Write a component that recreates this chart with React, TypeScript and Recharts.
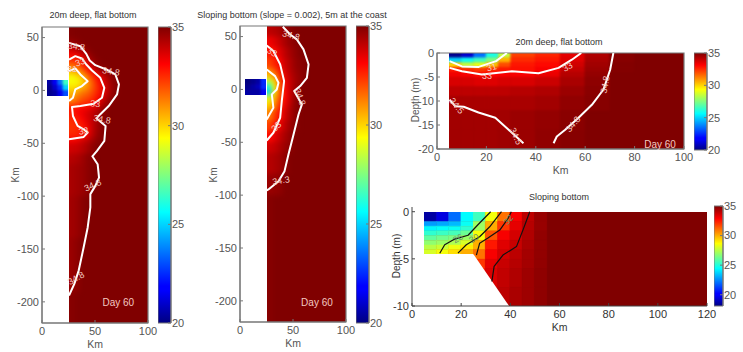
import React from 'react'
import {
  ComposedChart,
  Area,
  Scatter,
  XAxis,
  YAxis,
  ReferenceArea,
  ReferenceDot,
} from 'recharts'

type Pt = { x: number; y: number }
type Tag = { x: number; y: number; text: string; angle?: number }
type Box = { left: number; top: number; width: number; height: number }

const FONT = '"Liberation Sans", Arial, sans-serif'
const AXIS = '#777'
const INK = '#555'

// jet colormap stops
const jetStops: [number, string][] = [
  [0, '#000080'],
  [0.11, '#0000ff'],
  [0.125, '#0000ff'],
  [0.375, '#00ffff'],
  [0.625, '#ffff00'],
  [0.875, '#ff0000'],
  [1, '#800000'],
]

const hexToRgb = (h: string) => [1, 3, 5].map(i => parseInt(h.slice(i, i + 2), 16))

const jet = (value: number, lo = 20, hi = 35) => {
  const t = Math.min(1, Math.max(0, (value - lo) / (hi - lo)))
  for (let i = 1; i < jetStops.length; i++) {
    if (t <= jetStops[i][0]) {
      const [t0, c0] = jetStops[i - 1]
      const [t1, c1] = jetStops[i]
      const k = t1 === t0 ? 0 : (t - t0) / (t1 - t0)
      const a = hexToRgb(c0)
      const b = hexToRgb(c1)
      return `rgb(${a.map((v, n) => Math.round(v + (b[n] - v) * k)).join(',')})`
    }
  }
  return jetStops[jetStops.length - 1][1]
}

/* ---- 20m deep, flat bottom (plan view) ---- */
const flatX = [25, 30, 35, 40, 45, 50, 55, 60, 65, 70, 75]
const flatY = [60, 50, 45, 40, 35, 30, 25, 20, 15, 10, 5, 0, -5, -10, -15, -20, -25, -30, -35, -40, -45, -50, -60, -70, -100, -140, -190, -220]
const flatField = [
  [34.95],
  [34.8, 34.9],
  [34.3, 34.6, 34.85],
  [33.7, 34.0, 34.4, 34.8],
  [33.0, 33.1, 33.6, 34.4, 34.85],
  [32.3, 32.4, 32.8, 33.8, 34.6, 34.9],
  [31.3, 31.6, 32.3, 33.2, 34.1, 34.8, 34.9],
  [30.3, 30.6, 31.3, 32.3, 33.2, 34.0, 34.6, 34.85],
  [29.3, 29.6, 30.2, 31.3, 32.3, 33.1, 33.8, 34.5, 34.85],
  [29.3, 29.3, 29.8, 30.8, 31.8, 32.8, 33.5, 34.3, 34.8],
  [29.8, 29.8, 30.5, 31.0, 31.8, 32.6, 33.4, 34.2, 34.75],
  [30.3, 30.8, 31.3, 31.6, 32.1, 32.7, 33.4, 34.2, 34.8],
  [30.8, 31.3, 31.8, 32.1, 32.4, 33.0, 33.8, 34.5, 34.85],
  [31.8, 32.0, 32.4, 32.6, 33.0, 33.5, 34.2, 34.8],
  [32.8, 33.0, 33.2, 33.4, 33.7, 34.1, 34.7],
  [32.7, 33.0, 33.3, 33.7, 34.0, 34.5, 34.85],
  [32.5, 32.7, 33.1, 33.6, 34.0, 34.5, 34.9],
  [32.4, 32.5, 32.8, 33.4, 34.0, 34.6],
  [32.4, 32.5, 32.7, 33.1, 34.0, 34.6],
  [32.6, 32.6, 32.8, 33.4, 34.1, 34.7],
  [33.2, 33.3, 33.7, 34.0, 34.5, 34.85],
  [33.8, 33.9, 34.1, 34.4, 34.8],
  [34.2, 34.3, 34.5, 34.8, 34.9],
  [34.4, 34.5, 34.6, 34.8],
  [34.5, 34.6, 34.85],
  [34.6, 34.8],
  [34.9],
]
const riverX = [5, 10, 15, 20, 25]
const riverY = [10, 5, 0, -5]
const flatRiver = [
  [20.5, 21.5, 23.5, 26.5],
  [20.2, 21.0, 22.5, 25.0],
  [20.2, 20.5, 21.5, 23.0],
]
const flat348: Pt[] = [
  { x: 25.5, y: 45 }, { x: 36.2, y: 41.8 }, { x: 41.8, y: 34.6 }, { x: 45, y: 28.3 }, { x: 50.3, y: 23.9 },
  { x: 60.7, y: 19.8 }, { x: 69.2, y: 15.1 }, { x: 72.6, y: 5.7 }, { x: 70.8, y: -3.8 }, { x: 62.9, y: -14.8 },
  { x: 55, y: -22.6 }, { x: 51.3, y: -26.4 }, { x: 60, y: -33.6 }, { x: 58.8, y: -47.8 }, { x: 51.9, y: -57.2 },
  { x: 47.5, y: -62.3 }, { x: 52.5, y: -69.8 }, { x: 53.8, y: -82.4 }, { x: 50.3, y: -90.3 }, { x: 45.6, y: -98.1 },
  { x: 45.6, y: -110.7 }, { x: 43.1, y: -129.6 }, { x: 39.3, y: -148.4 }, { x: 34.6, y: -170.4 }, { x: 30.5, y: -183 },
  { x: 25.5, y: -194 },
]
const flat33: Pt[] = [
  { x: 25.5, y: 29.2 }, { x: 31.4, y: 32.4 }, { x: 37.7, y: 30.2 }, { x: 41.8, y: 24.5 }, { x: 47.2, y: 18.9 },
  { x: 55, y: 11.9 }, { x: 58.8, y: 2.5 }, { x: 56.6, y: -6.9 }, { x: 48.7, y: -12.6 }, { x: 36.2, y: -14.8 },
  { x: 28.3, y: -15.7 }, { x: 29.2, y: -24.2 }, { x: 33.6, y: -33.6 }, { x: 39.3, y: -36.8 }, { x: 43.1, y: -39.9 },
  { x: 39.3, y: -44 }, { x: 25.5, y: -46.2 },
]
const flat31: Pt[] = [
  { x: 25.5, y: 18.2 }, { x: 31.4, y: 20.8 }, { x: 36.2, y: 15.1 }, { x: 43.1, y: 8.8 }, { x: 37.7, y: 4.1 },
  { x: 31.4, y: 0.9 }, { x: 29.2, y: -6.9 }, { x: 25.5, y: -10.1 },
]
const flatTags: Tag[] = [
  { x: 32.4, y: 40.9, text: '34.8', angle: 5 },
  { x: 36.2, y: 26.1, text: '33', angle: -20 },
  { x: 28.3, y: 19.8, text: '31' },
  { x: 65, y: 17.3, text: '34.8', angle: 10 },
  { x: 50.3, y: -13.2, text: '33', angle: 5 },
  { x: 56.6, y: -28, text: '34.8', angle: 10 },
  { x: 39.3, y: -39, text: '33', angle: -10 },
  { x: 48.1, y: -90.3, text: '34.8', angle: -25 },
  { x: 32.4, y: -178.3, text: '34.8', angle: -30 },
  { x: 72, y: -201.3, text: 'Day 60' },
]

/* ---- Sloping bottom (plan view) ---- */
const slopeX = [25, 30, 35, 40, 45, 50, 55, 60, 65]
const slopeY = [60, 50, 40, 30, 20, 15, 10, 5, 0, -5, -10, -15, -20, -30, -40, -50, -60, -80, -100, -220]
const slopeField = [
  [34.1, 34.2, 34.4, 34.7, 34.85],
  [33.3, 33.6, 34.0, 34.4, 34.7, 34.9],
  [32.8, 33.0, 33.6, 34.1, 34.5, 34.8],
  [32.2, 32.6, 33.2, 33.9, 34.3, 34.7, 34.85],
  [31.0, 31.8, 32.8, 33.7, 34.2, 34.6, 34.8],
  [30.2, 31.0, 32.4, 33.5, 34.1, 34.5, 34.8],
  [28.5, 30.0, 32.0, 33.3, 34.0, 34.5, 34.75],
  [26.0, 29.5, 31.8, 33.2, 34.0, 34.6],
  [25.0, 29.5, 31.8, 33.1, 34.0, 34.7],
  [28.5, 30.3, 32.0, 33.1, 34.0, 34.8],
  [29.8, 30.8, 32.4, 33.3, 34.1, 34.85],
  [30.3, 31.3, 32.7, 33.5, 34.3, 34.85],
  [31.3, 32.2, 33.0, 33.8, 34.4, 34.85],
  [32.2, 32.8, 33.5, 34.1, 34.6, 34.9],
  [33.0, 33.5, 34.0, 34.4, 34.75],
  [33.8, 34.0, 34.3, 34.6, 34.85],
  [34.2, 34.3, 34.5, 34.8],
  [34.6, 34.7, 34.8],
  [34.9],
]
const slopeRiver = [
  [20.0, 20.2, 20.5, 22.5],
  [20.2, 20.5, 20.8, 22.5],
  [20.5, 20.5, 20.5, 21.5],
]
const slope348: Pt[] = [
  { x: 40.4, y: 59.3 }, { x: 47.3, y: 52 }, { x: 53.6, y: 47.3 }, { x: 59.9, y: 37.9 }, { x: 64.7, y: 23.7 },
  { x: 63.1, y: 11 }, { x: 56.8, y: 3.2 }, { x: 51.1, y: -1.6 }, { x: 58.4, y: -14.2 }, { x: 55.2, y: -23.7 },
  { x: 50.5, y: -42.6 }, { x: 45.7, y: -61.5 }, { x: 42, y: -77.3 }, { x: 36.3, y: -86.8 }, { x: 26.8, y: -94.6 },
  { x: 25.2, y: -95.6 },
]
const slope33: Pt[] = [
  { x: 25.2, y: 41.6 }, { x: 31.5, y: 36.3 }, { x: 37.9, y: 23.7 }, { x: 41.6, y: 7.9 }, { x: 39.4, y: -11 },
  { x: 37.9, y: -26.8 }, { x: 31.5, y: -41 }, { x: 25.2, y: -48.3 },
]
const slope31: Pt[] = [
  { x: 25.2, y: 18.9 }, { x: 33.1, y: 12.6 }, { x: 36.3, y: 6.3 }, { x: 34.7, y: 0 }, { x: 30, y: -4.7 },
  { x: 31.5, y: -17.4 }, { x: 25.2, y: -28.4 },
]
const slopeTags: Tag[] = [
  { x: 48, y: 50.5, text: '34.8', angle: 15 },
  { x: 30, y: 34.7, text: '33', angle: 30 },
  { x: 56.2, y: -7.3, text: '34.8', angle: 70 },
  { x: 34.7, y: -35.6, text: '33', angle: -45 },
  { x: 38.8, y: -86.8, text: '34.3', angle: -10 },
  { x: 72.6, y: -201.9, text: 'Day 60' },
]

/* ---- 20m deep, flat bottom (section) ---- */
const sectionX = [5, 10, 15, 20, 25, 30, 40, 50, 60, 70, 80]
const sectionY = [0, -1, -2, -3, -4, -5, -7, -9, -12, -16, -20]
const sectionField = [
  [20.2, 21.0, 23.5, 26.0, 28.5, 32.2, 32.6, 33.5, 34.3, 34.9],
  [25.0, 25.8, 26.5, 27.5, 30.5, 32.5, 32.8, 33.6, 34.4, 34.9],
  [30.0, 28.5, 29.0, 30.3, 32.0, 32.8, 33.0, 33.8, 34.5, 34.95],
  [32.8, 32.5, 32.3, 32.5, 32.8, 32.9, 33.2, 34.0, 34.6, 34.95],
  [33.3, 33.2, 33.0, 33.1, 33.2, 33.2, 33.4, 34.2, 34.7],
  [33.7, 33.7, 33.6, 33.6, 33.7, 33.7, 33.9, 34.4, 34.8],
  [34.1, 34.1, 34.1, 34.1, 34.1, 34.2, 34.3, 34.6, 34.85],
  [34.4, 34.4, 34.4, 34.4, 34.4, 34.4, 34.5, 34.75, 34.9],
  [34.5, 34.5, 34.5, 34.5, 34.5, 34.6, 34.7, 34.85],
  [34.5, 34.5, 34.5, 34.5, 34.55, 34.6, 34.75, 34.9],
]
const section348: Pt[] = [
  { x: 71.4, y: 0 }, { x: 70.1, y: -3.5 }, { x: 67.4, y: -7.6 }, { x: 62.7, y: -10.8 }, { x: 57.3, y: -13.5 },
  { x: 51.9, y: -16 }, { x: 48.5, y: -17.4 }, { x: 47.2, y: -18.8 },
]
const section345: Pt[] = [
  { x: 5.1, y: -9.7 }, { x: 7.4, y: -11.1 }, { x: 10.8, y: -11.2 }, { x: 16.8, y: -12.4 }, { x: 23.6, y: -13.5 },
  { x: 29, y: -16 }, { x: 35, y: -18.8 },
]
const section33: Pt[] = [
  { x: 5.1, y: -3.1 }, { x: 10.1, y: -3.8 }, { x: 18.2, y: -4.5 }, { x: 30.3, y: -3.8 }, { x: 41.1, y: -4.2 },
  { x: 49.2, y: -3.1 }, { x: 54.6, y: -1.4 }, { x: 58.4, y: 0 },
]
const section31: Pt[] = [
  { x: 5.1, y: -1.7 }, { x: 10.1, y: -2.8 }, { x: 16.9, y: -2.9 }, { x: 23.9, y: -1.7 }, { x: 28.3, y: 0 },
]
const sectionTags: Tag[] = [
  { x: 7.8, y: -11.1, text: '34.5', angle: 50 },
  { x: 31.7, y: -17.4, text: '34.5', angle: 65 },
  { x: 68.3, y: -6.6, text: '34.8', angle: -80 },
  { x: 55.3, y: -14.9, text: '34.8', angle: -50 },
  { x: 20.2, y: -5, text: '33' },
  { x: 53, y: -3, text: '33', angle: -30 },
  { x: 22.2, y: -3.1, text: '31', angle: -15 },
  { x: 90.3, y: -19.2, text: 'Day 60' },
]

/* ---- Sloping bottom (section) ---- */
const shelfX = [5, 10, 15, 20, 25]
const shelfY = [0, -1, -1.5, -2, -2.5, -3, -3.5, -4, -4.5]
const shelfField = [
  [18.6, 19.5, 22.0, 24.4],
  [22.8, 23.0, 23.3, 24.6],
  [24.3, 24.5, 24.6, 25.2],
  [25.2, 25.4, 25.6, 26.2],
  [26.0, 26.3, 26.5, 27.0],
  [26.8, 27.0, 27.3, 28.0],
  [27.5, 27.8, 28.4, 29.0],
  [28.0, 28.5, 29.2, 30.0],
]
const rampX = [25, 30, 35, 40, 45, 50, 55]
const rampY = [0, -1, -2, -3, -4, -5, -6, -8, -10]
const rampField = [
  [25.5, 28.5, 31.0, 33.0, 34.0, 34.6],
  [27.0, 30.0, 32.0, 33.3, 34.1, 34.6],
  [28.5, 31.5, 33.0, 33.6, 34.2, 34.7],
  [30.0, 32.5, 33.4, 33.8, 34.3, 34.7],
  [31.0, 33.0, 33.6, 34.0, 34.4, 34.7],
  [32.0, 33.3, 33.8, 34.1, 34.4, 34.7],
  [32.5, 33.5, 33.9, 34.2, 34.5, 34.75],
  [33.0, 33.6, 34.0, 34.3, 34.5, 34.75],
]
const seabed: Pt[] = [
  { x: 23, y: -4.5 },
  { x: 25, y: -4.5 },
  { x: 39.5, y: -10 },
]
const shelfLines: Pt[][] = [
  [{ x: 11.3, y: -4.4 }, { x: 13.3, y: -3.5 }, { x: 17.4, y: -2.9 }, { x: 22.8, y: -2.5 }, { x: 27.5, y: -1.2 }, { x: 32, y: 0 }],
  [{ x: 18.7, y: -4.4 }, { x: 22.1, y: -3.5 }, { x: 27.5, y: -2.65 }, { x: 31.6, y: -1.6 }, { x: 36.4, y: 0 }],
  [{ x: 26.2, y: -4.6 }, { x: 27.5, y: -3.35 }, { x: 30.9, y: -2.8 }, { x: 35.7, y: -1.95 }, { x: 39.1, y: -0.7 }, { x: 40.4, y: 0 }],
  [{ x: 32.5, y: -7.4 }, { x: 33.4, y: -5.8 }, { x: 37, y: -4.6 }, { x: 42.5, y: -3.7 }, { x: 45.2, y: -1.9 }, { x: 47.9, y: 0 }],
]
const shelfTags: Tag[] = [
  { x: 18.8, y: -2.9, text: '26', angle: -30 },
  { x: 25.4, y: -2.9, text: '30', angle: -30 },
  { x: 39.4, y: -0.9, text: '32', angle: -50 },
]

const planXTicks = [0, 50, 100]
const planYTicks = [50, 0, -50, -100, -150, -200]
const sectionXTicks = [0, 20, 40, 60, 80, 100]
const sectionYTicks = [0, -5, -10, -15, -20]
const shelfXTicks = [0, 20, 40, 60, 80, 100, 120]
const shelfYTicks = [0, -5, -10]
const barTicks = [20, 25, 30, 35]

// Smooth field: a blurred sub-chart clipped to its box, with its own scales
const PAD = 8
const HeatLayer = ({ box, xs, ys, field, blur, lo, hi }: {
  box: Box; xs: number[]; ys: number[]; field: number[][]; blur: number; lo?: number; hi?: number
}) => {
  const x0 = xs[0]
  const x1 = Math.max(xs[xs.length - 1], x0)
  const y0 = ys[0]
  const y1 = ys[ys.length - 1]
  const padX = (PAD * (x1 - x0)) / box.width
  const padY = (PAD * (y0 - y1)) / box.height
  const grow = (v: number, edge: number, by: number) => (v === edge ? edge + by : v)
  return (
    <div style={{ position: 'absolute', ...box, overflow: 'hidden', background: jet(35) }}>
      <div style={{ position: 'absolute', left: -PAD, top: -PAD, filter: `blur(${blur}px)` }}>
        <ComposedChart
          width={box.width + PAD * 2}
          height={box.height + PAD * 2}
          margin={{ top: 0, right: 0, bottom: 0, left: 0 }}
        >
          <XAxis hide type="number" dataKey="x" domain={[x0 - padX, x1 + padX]} allowDataOverflow />
          <YAxis hide type="number" dataKey="y" domain={[y1 - padY, y0 + padY]} allowDataOverflow />
          {field.flatMap((row, i) =>
            row.map((v, j) => (
              <ReferenceArea
                key={`${i}-${j}`}
                x1={grow(xs[j], x0, -padX)}
                x2={grow(xs[j + 1], x1, padX)}
                y1={grow(ys[i], y0, padY)}
                y2={grow(ys[i + 1], y1, -padY)}
                fill={jet(v, lo, hi)}
                fillOpacity={1}
                stroke={jet(v, lo, hi)}
                strokeWidth={0.5}
              />
            )),
          )}
        </ComposedChart>
      </div>
    </div>
  )
}

const tagShape = (tag: Tag, fill: string) => (props: any) => (
  <text
    x={props.cx}
    y={props.cy}
    fill={fill}
    fontSize={tag.text.startsWith('Day') ? 10 : 9}
    fontFamily={FONT}
    textAnchor="middle"
    dominantBaseline="middle"
    transform={tag.angle ? `rotate(${tag.angle} ${props.cx} ${props.cy})` : undefined}
  >
    {tag.text}
  </text>
)

const ML = 44
const MR = 14
const MT = 8
const MB = 34

const Frame = ({ box, xDomain, yDomain, xTicks, yTicks, lines, tags, lineColor = '#fff', lineWidth = 2, tagColor = '#f3c9c0', boxed = true, seabedLine, axisColor = AXIS, ink = INK }: any) => (
  <div style={{ position: 'absolute', left: box.left - ML, top: box.top - MT }}>
    <ComposedChart
      width={box.width + ML + MR}
      height={box.height + MT + MB}
      margin={{ top: MT, right: MR, bottom: 0, left: 0 }}
    >
      <XAxis
        type="number"
        dataKey="x"
        domain={xDomain}
        ticks={xTicks}
        allowDataOverflow
        height={MB}
        interval={0}
        stroke={axisColor}
        tick={{ fill: ink, fontSize: 11, fontFamily: FONT }}
        tickSize={-3}
        tickMargin={7}
        label={{ value: 'Km', position: 'insideBottom', offset: 9, fill: ink, fontSize: 10.5, fontFamily: FONT }}
      />
      <YAxis
        type="number"
        dataKey="y"
        domain={yDomain}
        ticks={yTicks}
        allowDataOverflow
        width={ML}
        interval={0}
        stroke={axisColor}
        tick={{ fill: ink, fontSize: 11, fontFamily: FONT }}
        tickSize={-3}
        tickMargin={6}
      />
      {boxed && (
        <ReferenceArea
          x1={xDomain[0]}
          x2={xDomain[1]}
          y1={yDomain[0]}
          y2={yDomain[1]}
          fill="none"
          stroke={AXIS}
          strokeWidth={1.2}
        />
      )}
      {seabedLine && (
        <Area
          data={seabedLine}
          dataKey="y"
          type="linear"
          baseValue={yDomain[0]}
          fill="#fff"
          fillOpacity={1}
          stroke="none"
          dot={false}
          activeDot={false}
          isAnimationActive={false}
        />
      )}
      {lines.map((pts: Pt[], i: number) => (
        <Scatter
          key={i}
          data={pts}
          line={{ stroke: lineColor, strokeWidth: lineWidth, strokeLinejoin: 'round' }}
          shape={() => <g />}
          isAnimationActive={false}
        />
      ))}
      {tags.map((t: Tag, i: number) => (
        <ReferenceDot key={i} x={t.x} y={t.y} r={0} shape={tagShape(t, tagColor)} />
      ))}
    </ComposedChart>
  </div>
)

const ColorBar = ({ box, id, lo = 20 }: { box: Box; id: string; lo?: number }) => (
  <div style={{ position: 'absolute', left: box.left, top: box.top - 6 }}>
    <ComposedChart
      width={box.width + 26}
      height={box.height + 12}
      margin={{ top: 6, right: 0, bottom: 6, left: 0 }}
    >
      <defs>
        <linearGradient id={id} x1="0" y1="1" x2="0" y2="0">
          {jetStops.map(([t, c]) => (
            <stop key={t} offset={t} stopColor={c} />
          ))}
        </linearGradient>
      </defs>
      <XAxis hide type="number" dataKey="x" domain={[0, 1]} allowDataOverflow />
      <YAxis
        orientation="right"
        type="number"
        dataKey="y"
        domain={[lo, 35]}
        ticks={barTicks.filter(t => t >= lo)}
        allowDataOverflow
        interval={0}
        width={26}
        stroke={AXIS}
        tick={{ fill: INK, fontSize: 11, fontFamily: FONT }}
        tickSize={-3}
        tickMargin={4}
      />
      <ReferenceArea x1={0} x2={1} y1={lo} y2={35} fill={`url(#${id})`} fillOpacity={1} stroke={AXIS} />
    </ComposedChart>
  </div>
)

const Caption = ({ x, y, text, size = 9, rotate = false, color = '#333' }: any) => (
  <div
    style={{
      position: 'absolute',
      left: x,
      top: y,
      transform: `translate(-50%, -50%)${rotate ? ' rotate(-90deg)' : ''}`,
      whiteSpace: 'nowrap',
      fontFamily: FONT,
      fontSize: size,
      color,
    }}
  >
    {text}
  </div>
)

// pixel window of a km range inside a plot box, used to lay out the heat sub-charts
const windowOf = (box: Box, dx: number[], dy: number[], x: number[], y: number[]): Box => {
  const px = box.width / (dx[1] - dx[0])
  const py = box.height / (dy[1] - dy[0])
  return {
    left: box.left + (x[0] - dx[0]) * px,
    top: box.top + (dy[1] - y[0]) * py,
    width: (x[1] - x[0]) * px,
    height: (y[0] - y[1]) * py,
  }
}

const planDX = [0, 100]
const planDY = [-220, 60]
const box1: Box = { left: 42, top: 27, width: 106, height: 296 }
const box2: Box = { left: 240, top: 26, width: 106, height: 296 }
const box3: Box = { left: 437, top: 53, width: 247, height: 96 }
const box4: Box = { left: 412, top: 207, width: 295, height: 99 }
const dy4 = [-10, 0.5]

const PlanPanel = ({ box, xs, ys, field, river, lines, tags }: any) => (
  <>
    <HeatLayer
      box={windowOf(box, planDX, planDY, [25, 100], [60, -220])}
      xs={[...xs, 100]}
      ys={ys}
      field={field}
      blur={2.5}
    />
    <HeatLayer
      box={windowOf(box, planDX, planDY, [5, 25], [10, -5])}
      xs={riverX}
      ys={riverY}
      field={river}
      blur={1}
    />
    <Frame box={box} xDomain={planDX} yDomain={planDY} xTicks={planXTicks} yTicks={planYTicks} lines={lines} tags={tags} />
  </>
)

export default function App() {
  return (
    <div style={{ position: 'absolute', left: 0, top: 0, width: 743, height: 352, overflow: 'hidden', background: '#fff' }}>
      <PlanPanel box={box1} xs={flatX} ys={flatY} field={flatField} river={flatRiver} lines={[flat348, flat33, flat31]} tags={flatTags} />
      <ColorBar box={{ left: 158, top: 27, width: 13, height: 296 }} id="jetA" />
      <Caption x={93} y={15} text="20m deep, flat bottom" />
      <Caption x={15} y={175} text="Km" rotate size={10} color={INK} />

      <PlanPanel box={box2} xs={slopeX} ys={slopeY} field={slopeField} river={slopeRiver} lines={[slope348, slope33, slope31]} tags={slopeTags} />
      <ColorBar box={{ left: 356, top: 26, width: 13, height: 297 }} id="jetB" />
      <Caption x={292} y={15} text="Sloping bottom (slope = 0.002), 5m at the coast" />
      <Caption x={213} y={175} text="Km" rotate size={10} color={INK} />

      <HeatLayer
        box={windowOf(box3, [0, 100], [-20, 0], [5, 100], [0, -20])}
        xs={[...sectionX, 100]}
        ys={sectionY}
        field={sectionField}
        blur={1.2}
      />
      <Frame
        box={box3}
        xDomain={[0, 100]}
        yDomain={[-20, 0]}
        xTicks={sectionXTicks}
        yTicks={sectionYTicks}
        lines={[section348, section345, section33, section31]}
        tags={sectionTags}
      />
      <ColorBar box={{ left: 694, top: 53, width: 13, height: 97 }} id="jetC" />
      <Caption x={559} y={42} text="20m deep, flat bottom" />
      <Caption x={415} y={100} text="Depth (m)" rotate size={10} color={INK} />

      <HeatLayer
        box={windowOf(box4, [0, 120], dy4, [5, 25], [0, -4.5])}
        xs={shelfX}
        ys={shelfY}
        field={shelfField}
        blur={0.4}
        lo={18.1}
      />
      <HeatLayer
        box={windowOf(box4, [0, 120], dy4, [25, 120], [0, -10])}
        xs={[...rampX, 120]}
        ys={rampY}
        field={rampField}
        blur={0.4}
        lo={18.1}
      />
      <Frame
        box={box4}
        xDomain={[0, 120]}
        yDomain={dy4}
        xTicks={shelfXTicks}
        yTicks={shelfYTicks}
        lines={shelfLines}
        tags={shelfTags}
        lineColor="#111"
        lineWidth={1.2}
        tagColor="#6f8f6a"
        boxed={false}
        seabedLine={seabed}
        axisColor="#444"
        ink="#333"
      />
      <ColorBar box={{ left: 714, top: 206, width: 9, height: 100 }} id="jetD" lo={18.1} />
      <Caption x={559} y={197} text="Sloping bottom" />
      <Caption x={396} y={256} text="Depth (m)" rotate size={10} color="#333" />
    </div>
  )
}
